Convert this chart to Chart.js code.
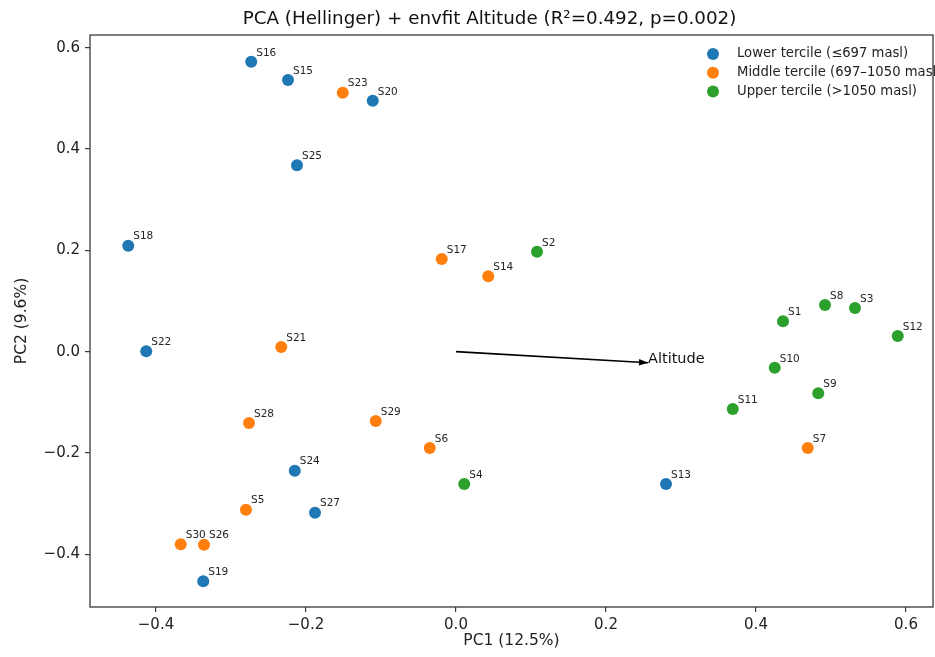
<!DOCTYPE html>
<html>
<head>
<meta charset="utf-8">
<script src="https://cdn.jsdelivr.net/npm/chart.js@4.4.1/dist/chart.umd.min.js"></script>
<style>
  html, body { margin: 0; padding: 0; background: #fff; }
  #wrap { width: 935px; height: 657px; }
</style>
</head>
<body>
<div id="wrap"><canvas id="pcaChart"></canvas></div>
<script>
// Sample scores on the first two PCA axes
const sampleNames = ['S1', 'S2', 'S3', 'S4', 'S5', 'S6', 'S7', 'S8', 'S9', 'S10',
                     'S11', 'S12', 'S13', 'S14', 'S15', 'S16', 'S17', 'S18', 'S19', 'S20',
                     'S21', 'S22', 'S23', 'S24', 'S25', 'S26', 'S27', 'S28', 'S29', 'S30'];
const pc1 = [0.436, 0.108, 0.532, 0.011, -0.280, -0.035, 0.469, 0.492, 0.483, 0.425,
             0.369, 0.589, 0.280, 0.043, -0.224, -0.273, -0.019, -0.437, -0.337, -0.111,
             -0.233, -0.413, -0.151, -0.215, -0.212, -0.336, -0.188, -0.276, -0.107, -0.367];
const pc2 = [0.060, 0.197, 0.086, -0.261, -0.312, -0.190, -0.190, 0.092, -0.082, -0.032,
             -0.113, 0.031, -0.261, 0.149, 0.536, 0.572, 0.183, 0.209, -0.453, 0.495,
             0.009, 0.001, 0.511, -0.235, 0.368, -0.381, -0.318, -0.141, -0.137, -0.380];
// 0 = lower, 1 = middle, 2 = upper tercile
const tercile = [2, 2, 2, 2, 1, 1, 1, 2, 2, 2,
                 2, 2, 0, 1, 0, 0, 1, 0, 0, 0,
                 1, 0, 1, 0, 0, 1, 0, 1, 1, 1];
const groupLabels = ['Lower tercile (≤697 masl)', 'Middle tercile (697–1050 masl)', 'Upper tercile (>1050 masl)'];
const groupColors = ['#1f77b4', '#ff7f0e', '#2ca02c'];

// envfit arrow for Altitude
const arrowX = [0, 0.256];
const arrowY = [0, -0.022];
const arrowName = 'Altitude';

const xTicks = [-0.4, -0.2, 0.0, 0.2, 0.4, 0.6];
const yTicks = [-0.4, -0.2, 0.0, 0.2, 0.4, 0.6];
const xRange = [-0.488, 0.636];
const yRange = [-0.504, 0.625];

const chartTitle = 'PCA (Hellinger) + envfit Altitude (R²=0.492, p=0.002)';
const xTitle = 'PC1 (12.5%)';
const yTitle = 'PC2 (9.6%)';

const fontFamily = '"DejaVu Sans", Verdana, sans-serif';
const axisColor = '#3a3a3a';
const fmtTick = v => v.toFixed(1).replace('-', '\u2212');

// one scatter dataset per tercile
const datasets = groupLabels.map((label, g) => ({
    type: 'scatter',
    label: label,
    data: sampleNames
        .map((name, i) => ({ x: pc1[i], y: pc2[i], name: name, g: tercile[i] }))
        .filter(p => p.g === g),
    backgroundColor: groupColors[g],
    borderColor: groupColors[g],
    borderWidth: 0,
    pointRadius: 6,
    pointHoverRadius: 6,
    isGroup: true
}));

datasets.push({
    type: 'line',
    label: arrowName,
    data: arrowX.map((x, i) => ({ x: x, y: arrowY[i] })),
    borderColor: '#000',
    borderWidth: 1.6,
    pointRadius: 0,
    showLine: true,
    fill: false,
    isGroup: false
});

// Sample labels, arrow head, title, legend and the axes box
const extrasPlugin = {
    id: 'extras',
    afterDatasetsDraw(chart) {
        const ctx = chart.ctx;
        const area = chart.chartArea;
        const xs = chart.scales.x;
        const ys = chart.scales.y;
        ctx.save();

        // sample names next to each point
        ctx.font = '10.5px ' + fontFamily;
        ctx.fillStyle = '#262626';
        ctx.textAlign = 'left';
        ctx.textBaseline = 'middle';
        chart.data.datasets.forEach((ds, di) => {
            if (!ds.isGroup) return;
            chart.getDatasetMeta(di).data.forEach((el, k) => {
                ctx.fillText(ds.data[k].name, el.x + 5, el.y - 9);
            });
        });

        // arrow head
        const x0 = xs.getPixelForValue(arrowX[0]), y0 = ys.getPixelForValue(arrowY[0]);
        const x1 = xs.getPixelForValue(arrowX[1]), y1 = ys.getPixelForValue(arrowY[1]);
        const ang = Math.atan2(y1 - y0, x1 - x0);
        const len = 9, half = 3.2;
        ctx.fillStyle = '#000';
        ctx.beginPath();
        ctx.moveTo(x1, y1);
        ctx.lineTo(x1 - len * Math.cos(ang) + half * Math.sin(ang), y1 - len * Math.sin(ang) - half * Math.cos(ang));
        ctx.lineTo(x1 - len * Math.cos(ang) - half * Math.sin(ang), y1 - len * Math.sin(ang) + half * Math.cos(ang));
        ctx.closePath();
        ctx.fill();
        ctx.font = '14.5px ' + fontFamily;
        ctx.fillStyle = '#111';
        ctx.fillText(arrowName, x1, y1 - 4);

        // axes box
        ctx.strokeStyle = axisColor;
        ctx.lineWidth = 1.3;
        ctx.strokeRect(area.left, area.top, area.right - area.left, area.bottom - area.top);

        // title
        ctx.font = '18.3px ' + fontFamily;
        ctx.fillStyle = '#111';
        ctx.textAlign = 'center';
        ctx.fillText(chartTitle, (area.left + area.right) / 2 - 22, 19);

        // legend (upper right, no frame)
        ctx.font = '13.2px ' + fontFamily;
        ctx.textAlign = 'left';
        chart.data.datasets.forEach((ds, di) => {
            if (!ds.isGroup) return;
            const cy = area.top + 19 + di * 18.8;
            ctx.fillStyle = ds.backgroundColor;
            ctx.beginPath();
            ctx.arc(area.right - 220, cy, 6, 0, Math.PI * 2);
            ctx.fill();
            ctx.fillStyle = '#222';
            ctx.fillText(ds.label, area.right - 196, cy);
        });
        ctx.restore();
    }
};

const ctx = document.getElementById('pcaChart').getContext('2d');
new Chart(ctx, {
    data: { datasets: datasets },
    options: {
        responsive: true,
        maintainAspectRatio: false,
        animation: false,
        devicePixelRatio: 1,
        layout: { autoPadding: false, padding: { left: 0, top: 35, right: 2, bottom: 0 } },
        plugins: {
            legend: { display: false },
            title: { display: false },
            tooltip: { enabled: false }
        },
        scales: {
            x: {
                type: 'linear',
                position: 'bottom',
                min: xRange[0],
                max: xRange[1],
                afterBuildTicks: s => { s.ticks = xTicks.map(v => ({ value: v })); },
                afterFit: s => { s.height = 50; s.paddingLeft = 0; s.paddingRight = 0; },
                grid: { display: true, drawOnChartArea: false, drawTicks: true, tickLength: 5, color: axisColor, lineWidth: 1.2 },
                border: { display: false },
                ticks: {
                    callback: v => fmtTick(v),
                    color: '#222',
                    font: { family: fontFamily, size: 15 },
                    padding: 4,
                    maxRotation: 0
                },
                title: {
                    display: true,
                    text: xTitle,
                    color: '#222',
                    font: { family: fontFamily, size: 15.5 },
                    padding: { top: 0, bottom: 7 }
                }
            },
            y: {
                type: 'linear',
                position: 'left',
                min: yRange[0],
                max: yRange[1],
                afterBuildTicks: s => { s.ticks = yTicks.map(v => ({ value: v })); },
                afterFit: s => { s.width = 90; s.paddingTop = 0; s.paddingBottom = 0; },
                grid: { display: true, drawOnChartArea: false, drawTicks: true, tickLength: 5, color: axisColor, lineWidth: 1.2 },
                border: { display: false },
                ticks: {
                    callback: v => fmtTick(v),
                    color: '#222',
                    font: { family: fontFamily, size: 15 },
                    padding: 5
                },
                title: {
                    display: true,
                    text: yTitle,
                    color: '#222',
                    font: { family: fontFamily, size: 15.5 },
                    padding: { top: 12.7, bottom: 0 }
                }
            }
        }
    },
    plugins: [extrasPlugin]
});
</script>
</body>
</html>
